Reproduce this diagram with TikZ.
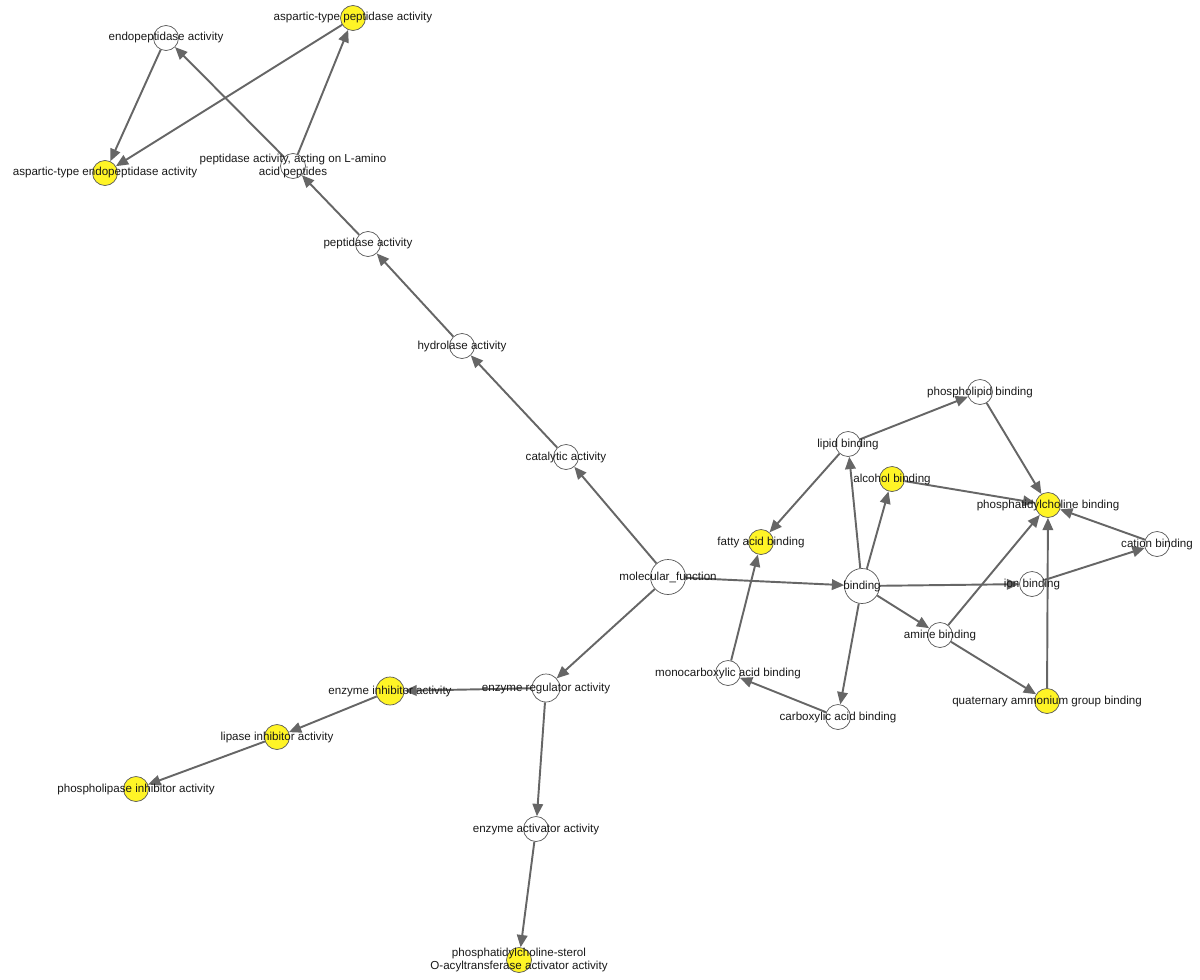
\documentclass[tikz,border=0pt]{standalone}
\usepackage{fontspec}
\setmainfont{Liberation Sans}
\usetikzlibrary{arrows.meta}
\begin{document}
\begin{tikzpicture}[x=0.02cm,y=-0.02cm,
  go/.style={circle,draw=black!65,fill=white,minimum size=0.5cm,inner sep=0pt,line width=0.4pt},
  hit/.style={go,fill=yellow!85!white},
  big/.style={minimum size=0.7cm},
  lbl/.style={font=\fontsize{6.6}{7.6}\selectfont,align=center,text=black!90},
  e/.style={draw=black!60,line width=1.1pt,-{Triangle[length=7pt,width=6pt]}}]
\useasboundingbox (0,0) rectangle (1200,980);
\node[go] (endo) at (166,38) {};
\node[hit] (asppep) at (353,18) {};
\node[hit] (aspendo) at (105,173) {};
\node[go] (pepL) at (293,166) {};
\node[go] (pep) at (368,244) {};
\node[go] (hyd) at (462,346) {};
\node[go] (cat) at (566,457) {};
\node[go,big] (mf) at (668,577) {};
\node[go,big] (bind) at (862,586) {};
\node[go] (lipid) at (848,444) {};
\node[go] (phlip) at (980,392) {};
\node[hit] (alc) at (892,479) {};
\node[hit] (pc) at (1048,505) {};
\node[go] (cation) at (1157,544) {};
\node[go] (ion) at (1032,584) {};
\node[go] (amine) at (940,635) {};
\node[hit] (quat) at (1047,701) {};
\node[hit] (fatty) at (761,542) {};
\node[go] (mono) at (728,673) {};
\node[go] (carb) at (838,717) {};
\node[go,minimum size=0.56cm] (reg) at (546,688) {};
\node[hit,minimum size=0.56cm] (inh) at (390,691) {};
\node[hit] (lip) at (277,737) {};
\node[hit] (phinh) at (136,789) {};
\node[go] (act) at (536,829) {};
\node[hit] (pcs) at (519,960) {};

\foreach \a/\b in {endo/aspendo, asppep/aspendo, pepL/endo, pepL/asppep, pep/pepL, hyd/pep, cat/hyd, mf/cat, mf/bind, mf/reg, reg/inh, inh/lip, lip/phinh, reg/act, act/pcs, bind/lipid, lipid/phlip, lipid/fatty, phlip/pc, bind/alc, alc/pc, bind/ion, ion/cation, cation/pc, bind/amine, amine/pc, amine/quat, quat/pc, bind/carb, carb/mono, mono/fatty}
  \draw[e] (\a) -- (\b);

\node[lbl] at (endo) {endopeptidase activity};
\node[lbl] at (asppep) {aspartic-type peptidase activity};
\node[lbl] at (aspendo) {aspartic-type endopeptidase activity};
\node[lbl] at (pepL) {peptidase activity, acting on L-amino\\acid peptides};
\node[lbl] at (pep) {peptidase activity};
\node[lbl] at (hyd) {hydrolase activity};
\node[lbl] at (cat) {catalytic activity};
\node[lbl] at (mf) {molecular\_function};
\node[lbl] at (bind) {binding};
\node[lbl] at (lipid) {lipid binding};
\node[lbl] at (phlip) {phospholipid binding};
\node[lbl] at (alc) {alcohol binding};
\node[lbl] at (pc) {phosphatidylcholine binding};
\node[lbl] at (cation) {cation binding};
\node[lbl] at (ion) {ion binding};
\node[lbl] at (amine) {amine binding};
\node[lbl] at (quat) {quaternary ammonium group binding};
\node[lbl] at (fatty) {fatty acid binding};
\node[lbl] at (mono) {monocarboxylic acid binding};
\node[lbl] at (carb) {carboxylic acid binding};
\node[lbl] at (reg) {enzyme regulator activity};
\node[lbl] at (inh) {enzyme inhibitor activity};
\node[lbl] at (lip) {lipase inhibitor activity};
\node[lbl] at (phinh) {phospholipase inhibitor activity};
\node[lbl] at (act) {enzyme activator activity};
\node[lbl] at (pcs) {phosphatidylcholine-sterol\\O-acyltransferase activator activity};
\end{tikzpicture}
\end{document}
